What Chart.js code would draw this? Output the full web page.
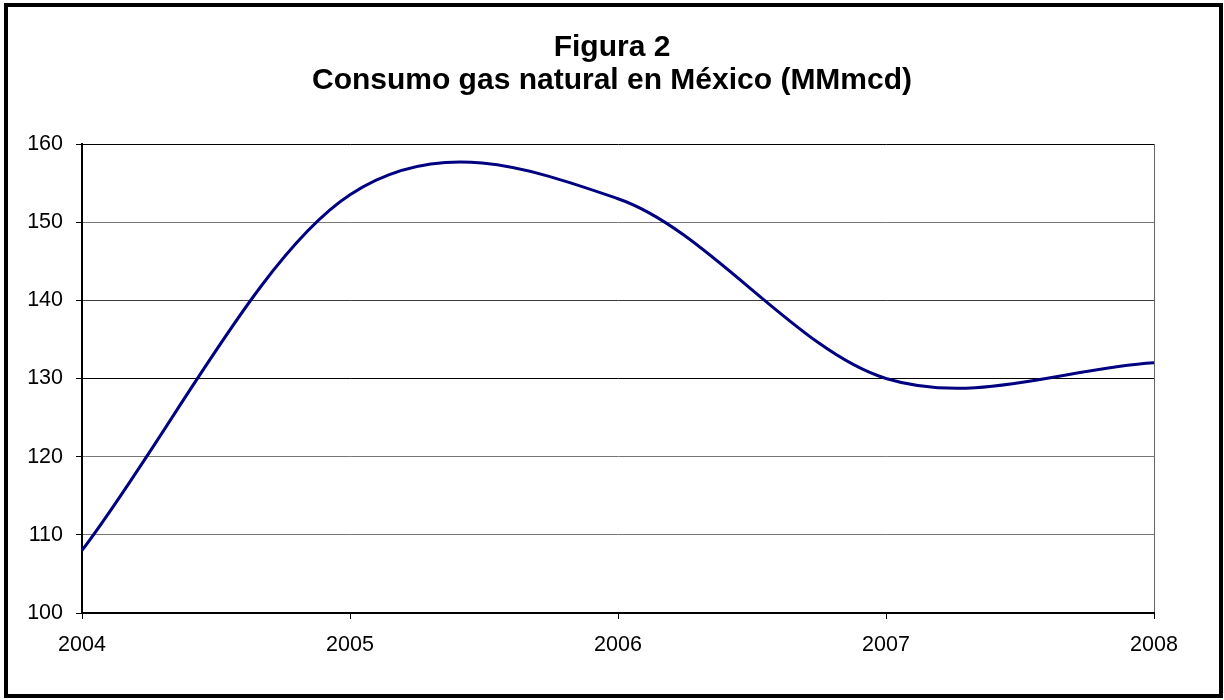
<!DOCTYPE html>
<html>
<head>
<meta charset="utf-8">
<title>Consumo gas natural en México</title>
<script src="https://cdn.jsdelivr.net/npm/chart.js@4/dist/chart.umd.min.js"></script>
<style>
  html, body { margin: 0; padding: 0; background: #fff; }
  #wrap { position: relative; width: 1224px; height: 700px; }
</style>
</head>
<body>
<div id="wrap"><canvas id="chart" width="1224" height="700"></canvas></div>
<script>
// Annual natural gas consumption in Mexico, MMmcd
const years = ['2004', '2005', '2006', '2007', '2008'];
const consumo = [108, 153.5, 153, 130, 132];

const titleLines = ['Figura 2', 'Consumo gas natural en México (MMmcd)'];
const yTicks = { min: 100, max: 160, step: 10 };

const FONT = "'Liberation Sans', Arial, sans-serif";

// Frame around the whole figure
const framePlugin = {
  id: 'frame',
  afterDraw(chart) {
    const ctx = chart.ctx;
    ctx.save();
    ctx.strokeStyle = '#000';
    ctx.lineWidth = 4;
    ctx.strokeRect(6, 5, 1215, 691);
    ctx.restore();
  }
};

// Spreadsheet-style smoothing: uniform Catmull-Rom tangents (1/6 of the
// neighbour span) and one third of the chord at the two ends, applied to
// the point positions the line controller has already laid out.
const smoothPlugin = {
  id: 'uniformSmooth',
  beforeDatasetsDraw(chart) {
    chart.getSortedVisibleDatasetMetas().forEach((meta) => {
      if (meta.type !== 'line' || !meta.dataset) return;
      meta.dataset.updateControlPoints(chart.chartArea, 'x');
      const pts = meta.data;
      const n = pts.length;
      for (let i = 0; i < n; i++) {
        const p = pts[i];
        if (i === 0) {
          const q = pts[1];
          p.cp1x = p.x; p.cp1y = p.y;
          p.cp2x = p.x + (q.x - p.x) / 3;
          p.cp2y = p.y + (q.y - p.y) / 3;
        } else if (i === n - 1) {
          const q = pts[i - 1];
          p.cp1x = p.x - (p.x - q.x) / 3;
          p.cp1y = p.y - (p.y - q.y) / 3;
          p.cp2x = p.x; p.cp2y = p.y;
        } else {
          const a = pts[i - 1], b = pts[i + 1];
          const dx = (b.x - a.x) / 6, dy = (b.y - a.y) / 6;
          p.cp1x = p.x - dx; p.cp1y = p.y - dy;
          p.cp2x = p.x + dx; p.cp2y = p.y + dy;
        }
      }
      meta.dataset._path = undefined;
    });
  }
};

// Horizontal gridline shades per value
function gridShade(v) {
  if (v === 160 || v === 130 || v === 100) return '#000';
  if (v === 140) return '#3a3a3a';
  return '#777';
}

new Chart(document.getElementById('chart'), {
  type: 'line',
  data: {
    labels: years,
    datasets: [{
      data: consumo,
      borderColor: '#000080',
      borderWidth: 3,
      pointRadius: 0,
      fill: false,
      tension: 0.33
    }]
  },
  options: {
    responsive: false,
    animation: false,
    layout: { padding: { left: 0, right: 0, top: 0, bottom: 0 } },
    plugins: {
      legend: { display: false },
      tooltip: { enabled: false },
      title: {
        display: true,
        text: titleLines,
        color: '#000',
        font: { family: FONT, size: 30, weight: 'bold', lineHeight: 1.1 },
        padding: { top: 31, bottom: 47 }
      }
    },
    scales: {
      x: {
        offset: false,
        grid: {
          drawOnChartArea: true,
          color: (c) => (c.index === years.length - 1 ? '#666' : 'transparent'),
          tickColor: '#000',
          tickLength: 6,
          lineWidth: 1
        },
        border: { display: true, color: '#000', width: 2 },
        ticks: {
          color: '#000',
          font: { family: FONT, size: 21.5 },
          padding: 13,
          maxRotation: 0,
          autoSkip: false
        },
        afterFit(scale) { scale.height = 87; }
      },
      y: {
        min: yTicks.min,
        max: yTicks.max,
        grid: {
          color: (c) => gridShade(c.tick.value),
          tickColor: '#000',
          tickLength: 6,
          lineWidth: 1
        },
        border: { display: true, color: '#000', width: 2 },
        ticks: {
          stepSize: yTicks.step,
          color: '#000',
          font: { family: FONT, size: 21.5 },
          padding: 13
        },
        afterFit(scale) { scale.width = 82; }
      },
      // empty margin on the right of the plot
      yRight: {
        position: 'right',
        display: true,
        min: yTicks.min,
        max: yTicks.max,
        grid: { display: false },
        border: { display: false },
        ticks: { display: false },
        afterFit(scale) { scale.width = 70; }
      }
    }
  },
  plugins: [framePlugin, smoothPlugin]
});
</script>
</body>
</html>
